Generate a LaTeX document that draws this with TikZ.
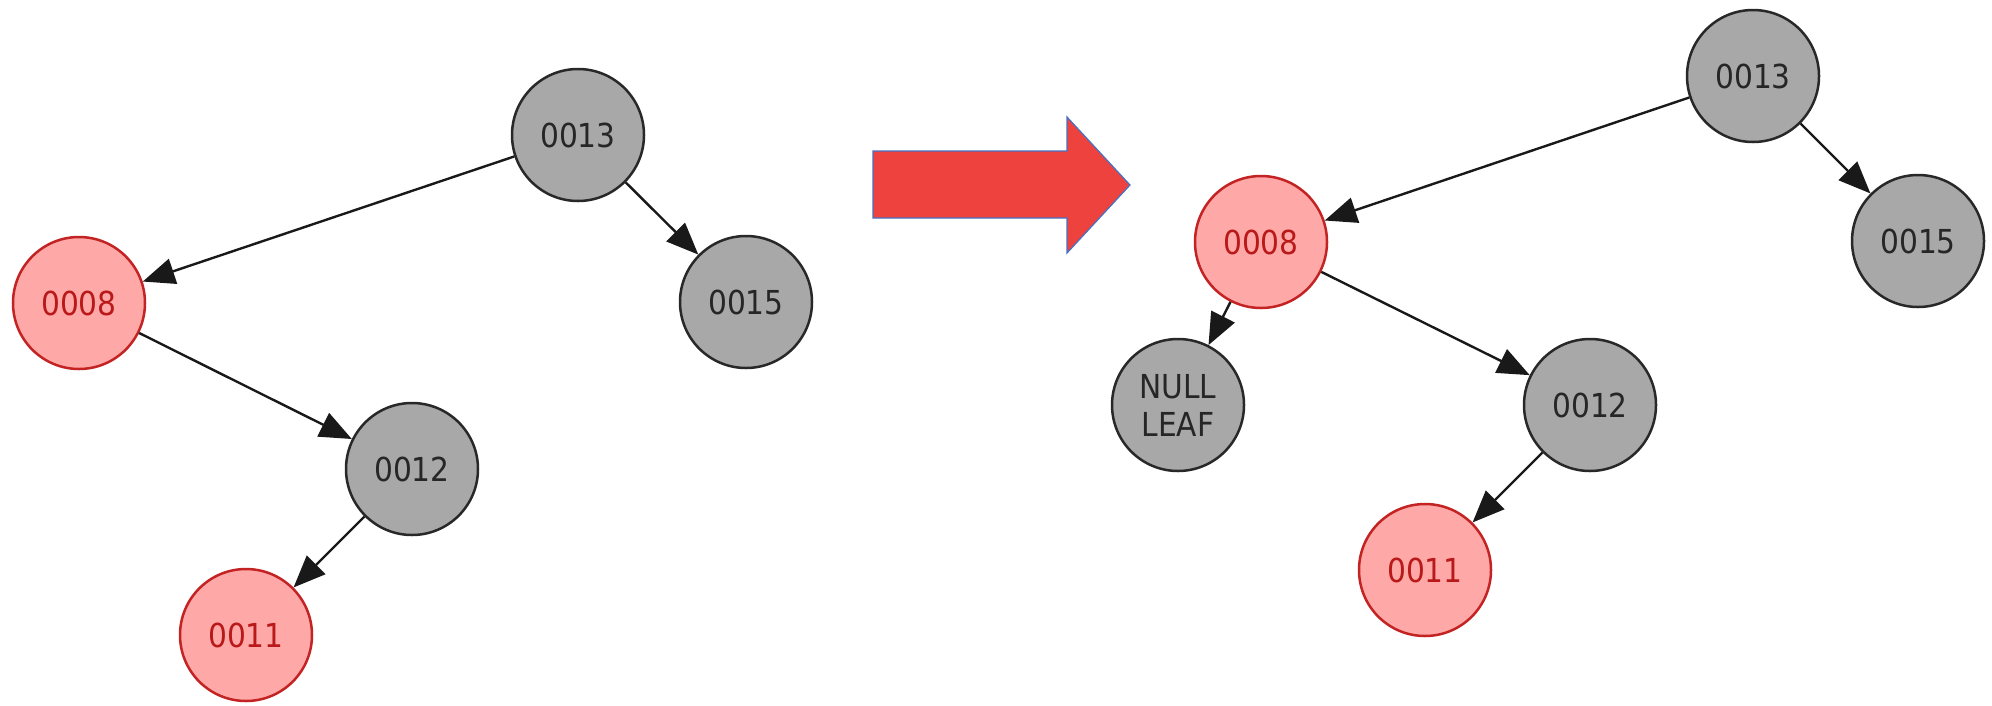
\documentclass[tikz,border=0pt]{standalone}
\usepackage{fontspec}
\setmainfont{DejaVu Sans Condensed}
\usepackage{xcolor}
\usetikzlibrary{arrows.meta}
\definecolor{nodegray}{RGB}{168,168,168}
\definecolor{nodeedge}{RGB}{40,40,40}
\definecolor{redfill}{RGB}{255,168,168}
\definecolor{rededge}{RGB}{195,35,35}
\definecolor{redtext}{RGB}{185,25,25}
\definecolor{bigred}{RGB}{238,66,62}
\definecolor{bigedge}{RGB}{68,114,196}
\tikzset{
  treenode/.style={
    circle, draw=nodeedge, line width=2.5pt,
    minimum size=132pt, inner sep=0pt,
    align=center, font=\fontsize{33}{38}\selectfont
  },
  blacknode/.style={treenode, fill=nodegray, text=black!85},
  rednode/.style={treenode, fill=redfill, draw=rededge, text=redtext},
  treearrow/.style={-{Triangle[length=32pt,width=26pt]}, line width=2.4pt, draw=black!90, fill=black},
  bigarrow/.style={fill=bigred, draw=bigedge, line width=1.2pt},
}
\begin{document}
\begin{tikzpicture}[x=1pt, y=-1pt]
  \useasboundingbox (0,0) rectangle (1992,705);
  % tree before
  \node (l13) [blacknode] at (578,135) {0013};
  \node (l08) [rednode] at (79,303) {0008};
  \node (l15) [blacknode] at (746,302) {0015};
  \node (l12) [blacknode] at (412,469) {0012};
  \node (l11) [rednode] at (246,635) {0011};
  \draw[treearrow] (l13)--(l08); \draw[treearrow] (l13)--(l15);
  \draw[treearrow] (l08)--(l12); \draw[treearrow] (l12)--(l11);
  % big arrow
  \filldraw[bigarrow] (873,151) -- (1067,151) -- (1067,117) -- (1130,185)
    -- (1067,253) -- (1067,218) -- (873,218) -- cycle;
  % tree after
  \node (r13) [blacknode] at (1753,76) {0013};
  \node (r08) [rednode] at (1261,242) {0008};
  \node (r15) [blacknode] at (1918,241) {0015};
  \node (rnull) [blacknode] at (1178,405) {NULL\\LEAF};
  \node (r12) [blacknode] at (1590,405) {0012};
  \node (r11) [rednode] at (1425,570) {0011};
  \draw[treearrow] (r13)--(r08); \draw[treearrow] (r13)--(r15);
  \draw[treearrow] (r08)--(rnull); \draw[treearrow] (r08)--(r12);
  \draw[treearrow] (r12)--(r11);
\end{tikzpicture}
\end{document}
